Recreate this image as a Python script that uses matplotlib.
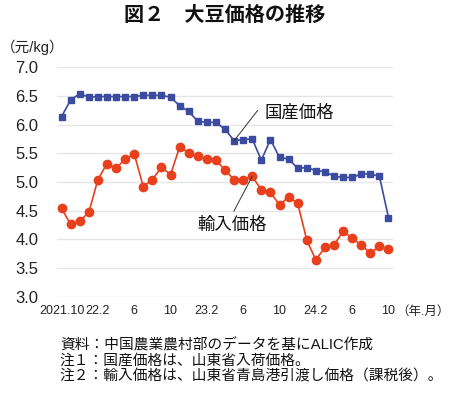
import matplotlib
matplotlib.use("Agg")
import matplotlib.pyplot as plt

months = ["2021.10", "", "", "", "22.2", "", "", "", "6", "", "", "", "10", "", "", "",
          "23.2", "", "", "", "6", "", "", "", "10", "", "", "", "24.2", "", "", "", "6",
          "", "", "", "10"]
domestic = [6.14, 6.43, 6.54, 6.48, 6.49, 6.49, 6.49, 6.49, 6.49, 6.51, 6.51, 6.51, 6.48,
            6.33, 6.23, 6.06, 6.04, 6.04, 5.92, 5.72, 5.74, 5.75, 5.38, 5.74, 5.43, 5.40,
            5.24, 5.25, 5.20, 5.18, 5.10, 5.08, 5.08, 5.14, 5.14, 5.10, 4.38]
imported = [4.54, 4.26, 4.32, 4.47, 5.04, 5.32, 5.24, 5.40, 5.49, 4.92, 5.04, 5.26, 5.13,
            5.61, 5.51, 5.45, 5.40, 5.38, 5.21, 5.04, 5.04, 5.10, 4.86, 4.82, 4.60, 4.74,
            4.63, 3.99, 3.64, 3.86, 3.90, 4.14, 4.02, 3.90, 3.76, 3.88, 3.83]
yticks = [3.0, 3.5, 4.0, 4.5, 5.0, 5.5, 6.0, 6.5, 7.0]

FONT = ["Liberation Sans", "Noto Sans CJK JP", "DejaVu Sans"]
plt.rcParams["font.family"] = FONT

BLUE = "#3B4BA0"
RED = "#E8401C"

fig = plt.figure(figsize=(4.5, 3.99), dpi=100)
ax = fig.add_axes([0.1267, 0.2564, 0.7467, 0.5749])

x = list(range(len(months)))
ax.plot(x, domestic, color=BLUE, lw=1.2, marker="s", ms=5, mec=BLUE, mfc=BLUE,
        clip_on=False, zorder=3)
ax.plot(x, imported, color=RED, lw=1.2, marker="o", ms=6, mec=RED, mfc=RED,
        clip_on=False, zorder=3)

ax.set_xlim(-0.5, len(months) - 0.5)
ax.set_ylim(3.0, 7.0)
ax.set_yticks(yticks)
ax.set_yticklabels([f"{v:.1f}" for v in yticks], fontsize=12)
ax.set_xticks(x)
ax.set_xticklabels(months, fontsize=9)
ax.tick_params(axis="both", length=0, colors="#222222")
ax.tick_params(axis="x", pad=6)
ax.tick_params(axis="y", pad=13.5)
ax.grid(axis="y", color="#E6E6E6", lw=1)
ax.set_axisbelow(True)
for s in ax.spines.values():
    s.set_visible(False)

# annotations
line_kw = dict(arrowstyle="-", color="#333333", lw=0.7, shrinkA=0, shrinkB=0)
ax.annotate("", xy=(19, domestic[19]), xytext=(21.6, 6.25), arrowprops=line_kw)
ax.text(22.35, 6.22, "国産価格", fontsize=12.5, va="center", ha="left", color="#111111")
ax.annotate("", xy=(21, imported[21]), xytext=(18.97, 4.49), arrowprops=line_kw)
ax.text(15.0, 4.25, "輸入価格", fontsize=12.5, va="center", ha="left", color="#111111")

fig.text(0.5, 0.962, "図２　大豆価格の推移", ha="center", va="center",
         fontsize=14.5, fontweight="bold", color="#111111")
fig.text(0.002, 0.882, "（元/kg）", ha="left", va="center", fontsize=10.5, color="#222222")
fig.text(0.999, 0.218, "（年.月）", ha="right", va="center", fontsize=9, color="#222222")

notes = ["資料：中国農業農村部のデータを基にALIC作成",
         "注１：国産価格は、山東省入荷価格。",
         "注２：輸入価格は、山東省青島港引渡し価格（課税後）。"]
for i, t in enumerate(notes):
    fig.text(0.133, 1 - (345 + 16 * i) / 399, t, ha="left", va="center",
             fontsize=10.6, color="#111111")

fig.savefig("out.png", dpi=100)
